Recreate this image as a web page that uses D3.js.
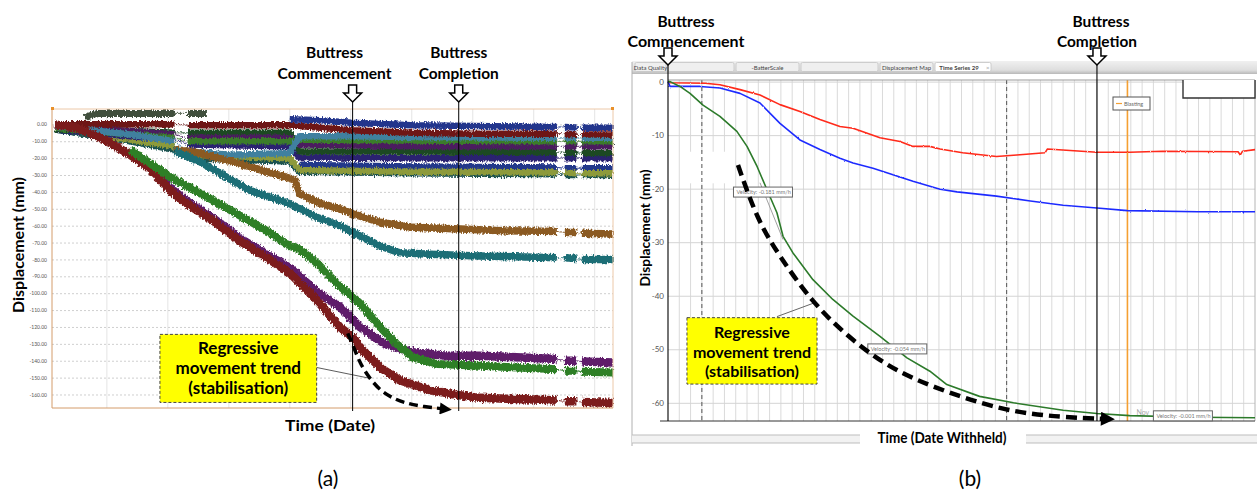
<!DOCTYPE html>
<html>
<head>
<meta charset="utf-8">
<title>Displacement time series - buttress</title>
<script src="https://d3js.org/d3.v7.min.js"></script>
<style>
  body { margin: 0; background: #fff; }
  svg { display: block; }
  text { font-family: Lato, "Open Sans", sans-serif; }
</style>
</head>
<body>
<div id="chart"></div>
<script>
// ---------------- data: panel (a) ----------------
// t = time (grid interval units), v = displacement (mm); null = data gap
var G = null;
var yTicksA = [0, -10, -20, -30, -40, -50, -60, -70, -80, -90, -100, -110, -120, -130, -140, -150, -160];
var gridA = [1, 2, 3, 4, 5, 6, 7, 8, 9];

var a_grayGreen = [[0.64,4],[0.84,6.5],[1.38,6.5],[2.11,6.5],G,[2.33,6.5],[2.64,6.5]];
var a_navy = [[4.0,3],[4.5,2.5],[5.0,1],[6.0,-0.5],[7.0,-1],[8.38,-1.5],G,[8.51,-1.5],[8.70,-1.8],G,[8.79,-2],[9.3,-2]];
var a_darkRed = [[0.15,0],[1.38,0],[2.11,0],G,[2.33,-0.5],[4.0,-0.5],[4.16,-1],[5.0,-3.5],[6.0,-5],[7.0,-5.5],[8.38,-5.5],G,[8.51,-5.5],[8.70,-6],G,[8.79,-6],[9.3,-6]];
var a_steel = [[0.15,-1],[1.38,-6],[2.11,-10],G,[2.33,-16],[3.0,-18],[4.0,-17],[4.16,-7],[5.0,-7],[6.0,-7.5],[8.38,-8],G,[8.51,-8],[8.70,-8],G,[8.79,-8],[9.3,-8]];
var a_green = [[0.15,-2],[1.38,-6],[2.11,-8],G,[2.33,-10],[4.0,-10],[4.16,-9],[6.0,-9.5],[8.38,-10],G,[8.51,-10],[8.70,-10],G,[8.79,-10],[9.3,-10]];
var a_olive = [[0.15,-2],[1.38,-9],[2.11,-13],G,[2.33,-18],[4.0,-20],[4.16,-27],[6.0,-28],[8.38,-28.5],G,[8.51,-28.5],[8.70,-29],G,[8.79,-29],[9.3,-29]];
var a_plum = [[0.15,-1],[1.38,-4],[2.11,-6],G,[2.33,-8],[4.0,-8],[4.16,-12],[6.0,-13],[8.38,-13],G,[8.51,-13],[8.70,-13],G,[8.79,-13],[9.3,-13]];
var a_darkGreen = [[0.15,-3],[1.38,-4],[2.11,-5],G,[2.33,-5],[4.0,-5],[4.16,-16],[6.0,-16],[8.38,-16.5],G,[8.51,-16.5],[8.70,-17],G,[8.79,-17],[9.3,-17]];
var a_indigo = [[0.15,-3],[1.38,-7],[2.11,-9],G,[2.33,-12],[4.0,-13],[4.16,-19.5],[6.0,-20],[8.38,-20],G,[8.51,-20],[8.70,-20],G,[8.79,-20],[9.3,-20]];
var a_navy2 = [[4.16,-24],[6.0,-25],[8.38,-25.5],G,[8.51,-26],[8.70,-26],G,[8.79,-26],[9.3,-26]];
var a_darkTeal = [[0.15,-3],[1.38,-10],[2.11,-15],G,[2.33,-20],[4.0,-22],[4.16,-28],[6.0,-29],[8.38,-29.5],G,[8.51,-30],[8.70,-30],G,[8.79,-30],[9.3,-30]];

var a_brown = [[2.11,-15],[2.52,-17],[3.34,-25],[4.0,-32],[4.08,-33],[4.16,-41],[4.44,-46],[4.82,-50],[5.03,-53],[5.48,-58],[6.0,-61],[6.8,-62],[7.5,-63],[8.38,-63.5],G,[8.51,-64],[8.70,-64],G,[8.79,-64.5],[9.3,-65]];
var a_teal = [[2.11,-16],[2.33,-19],[2.52,-22],[3.0,-32],[3.34,-39],[4.0,-47],[4.44,-55],[4.82,-60],[5.03,-64],[5.48,-72],[5.8,-76],[6.3,-77],[7.11,-78],[8.38,-79],G,[8.51,-79],[8.70,-79.5],G,[8.79,-80],[9.3,-80]];
var a_purple = [[1.38,-17],[1.7,-25],[2.03,-37.5],[2.31,-45.5],[2.74,-55.5],[3.18,-67.5],[3.62,-77],[4.0,-85],[4.44,-99],[4.82,-108],[5.15,-120],[5.55,-130],[6.02,-135],[6.57,-137],[7.11,-137],[8.38,-139],G,[8.51,-140],[8.70,-140],G,[8.79,-140.5],[9.3,-141]];
var a_maroon = [[0.15,0],[0.5,-2],[0.84,-7],[1.1,-12],[1.38,-18],[1.7,-26],[2.03,-39],[2.31,-47],[2.74,-57],[3.18,-69],[3.62,-79],[4.0,-88],[4.44,-104],[4.82,-120],[5.03,-126],[5.15,-132],[5.48,-144],[5.8,-151.6],[6.3,-157.5],[6.79,-160.5],[7.11,-162],[8.0,-163],[8.38,-163.5],G,[8.51,-164],[8.70,-164],G,[8.79,-164.5],[9.3,-165]];
var a_bigGreen = [[1.38,-15],[2.03,-31],[2.33,-37],[2.74,-45],[3.18,-54],[3.62,-63],[4.0,-72],[4.16,-74],[4.44,-82],[4.82,-96],[5.03,-102],[5.15,-106],[5.48,-120],[5.75,-130],[6.02,-138],[6.42,-142],[7.11,-143],[8.38,-145],G,[8.51,-146],[8.70,-146],G,[8.79,-146.5],[9.3,-147]];

var eventsA = [5.03, 6.77];
var trendA = [[4.95,-123.8],[5.05,-132],[5.15,-141.5],[5.3,-150],[5.48,-157.6],[5.7,-162.5],[5.92,-165.3],[6.2,-167.3],[6.5,-168.4]];

// ---------------- data: panel (b) ----------------
// t = days, v = displacement (mm)
var yTicksB = [0, -10, -20, -30, -40, -50, -60];
var gridB = d3.range(1, 52);
var dashedB = [3, 30];
var eventsB = [0, 38];
var blastingB = 40.7;

var b_red = [[0,0],[0.18,-0.2],[3.3,-0.3],[4.6,-0.6],[6.38,-1.5],[8.15,-2.5],[9.92,-4.3],[11.69,-5.6],[13.46,-7.1],[15.23,-8.4],[16.39,-8.7],[18.78,-10.5],[20.55,-11.2],[21.7,-12.1],[23.2,-12.1],[24.1,-12.6],[26.1,-13.3],[29.1,-14],[30.9,-13.7],[33.4,-13.3],[33.6,-12.6],[38,-13.2],[40.9,-13.2],[43.8,-13],[50.5,-13.1],[50.7,-13.7],[50.9,-13.0],[52,-12.7]];
var b_blue = [[0,0],[0.18,-0.9],[2.83,-0.9],[4.6,-1.2],[6.38,-2.2],[8.15,-4],[9.92,-7.8],[11.69,-10.9],[13.46,-12.7],[15.23,-14.3],[16.39,-15.2],[18.16,-16.2],[19.93,-17.4],[21.7,-18.6],[24.1,-20.1],[25.6,-20.6],[29.1,-21.4],[32.1,-22.3],[35,-23.1],[38,-23.6],[40.7,-24.1],[46.9,-24.3],[52,-24.3]];
var b_green = [[0,0],[0.18,0],[1.06,-0.9],[1.95,-2.2],[3.1,-4.4],[4.6,-6.5],[6.1,-9.3],[7.0,-12.1],[7.9,-15.9],[8.77,-20.2],[9.65,-24.5],[10.19,-28.9],[11.07,-32],[12.84,-37],[14.6,-40.7],[16.39,-43.8],[18.78,-47.6],[21.17,-51.6],[23.2,-54.1],[24.7,-56.6],[27.6,-58.8],[30.6,-60],[35,-61.4],[38,-62],[40.9,-62.4],[46.9,-62.7],[52,-62.8]];

var trendB = [[6.2,-15.6],[7.9,-25.8],[9.9,-32.7],[12.8,-41.3],[15.9,-47.6],[19.4,-53.2],[23.2,-56.9],[29.7,-61.6],[35,-62.7],[38.6,-63.0]];
var velocityB = [
  {text: "Velocity: -0.181 mm/h", t: 5.8, v: -19.7},
  {text: "Velocity: -0.054 mm/h", t: 17.7, v: -49.0},
  {text: "Velocity: -0.001 mm/h", t: 43.0, v: -61.5}
];
var tabsB = [["Data Quality", 33], ["", 68], ["-BatterScale", 65], ["", 79], ["Displacement Map", 55], ["Time Series 29", 58]];

// ---------------- svg ----------------
var W = 1257, H = 493;
var svg = d3.select("#chart").append("svg")
  .attr("width", W).attr("height", H)
  .style("background", "#fff");

var defs = svg.append("defs");
defs.append("marker").attr("id", "headA")
  .attr("viewBox", "0 0 10 10").attr("refX", 2).attr("refY", 5)
  .attr("markerWidth", 16).attr("markerHeight", 12).attr("markerUnits", "userSpaceOnUse")
  .attr("orient", "auto")
  .append("path").attr("d", "M0,0 L10,5 L0,10 Z").attr("fill", "#000");
defs.append("marker").attr("id", "headB")
  .attr("viewBox", "0 0 10 10").attr("refX", 2).attr("refY", 5)
  .attr("markerWidth", 18).attr("markerHeight", 14).attr("markerUnits", "userSpaceOnUse")
  .attr("orient", "auto")
  .append("path").attr("d", "M0,0 L10,5 L0,10 Z").attr("fill", "#000");
var tabGrad = defs.append("linearGradient").attr("id", "tabGrad").attr("x1", 0).attr("x2", 0).attr("y1", 0).attr("y2", 1);
tabGrad.append("stop").attr("offset", "0%").attr("stop-color", "#f0f0f0");
tabGrad.append("stop").attr("offset", "70%").attr("stop-color", "#dedede");
tabGrad.append("stop").attr("offset", "100%").attr("stop-color", "#b8b8b8");
// rough edge for the noisy survey bands
var rough = defs.append("filter").attr("id", "rough").attr("x", "-2%").attr("y", "-5%").attr("width", "104%").attr("height", "110%");
rough.append("feTurbulence").attr("type", "fractalNoise").attr("baseFrequency", "0.9 0.35").attr("numOctaves", 2).attr("seed", 3).attr("result", "n");
rough.append("feDisplacementMap").attr("in", "SourceGraphic").attr("in2", "n").attr("scale", 5).attr("xChannelSelector", "R").attr("yChannelSelector", "G");
// lighter jitter for the radar traces in (b)
var jitter = defs.append("filter").attr("id", "jitter").attr("x", "-2%").attr("y", "-5%").attr("width", "104%").attr("height", "110%");
jitter.append("feTurbulence").attr("type", "fractalNoise").attr("baseFrequency", "0.6 0.2").attr("numOctaves", 1).attr("seed", 7).attr("result", "n");
jitter.append("feDisplacementMap").attr("in", "SourceGraphic").attr("in2", "n").attr("scale", 2.2).attr("xChannelSelector", "R").attr("yChannelSelector", "G");

function hollowArrow(g, cx, top) {
  var p = d3.path();
  p.moveTo(cx - 4, top); p.lineTo(cx + 4, top); p.lineTo(cx + 4, top + 8);
  p.lineTo(cx + 9, top + 8); p.lineTo(cx, top + 17); p.lineTo(cx - 9, top + 8);
  p.lineTo(cx - 4, top + 8); p.closePath();
  g.append("path").attr("d", p.toString()).attr("fill", "#fff").attr("stroke", "#000").attr("stroke-width", 1.5);
}
function boldText(g, x, y, str, size, len) {
  var t = g.append("text").attr("x", x).attr("y", y).attr("text-anchor", "middle")
    .attr("font-size", size).attr("font-weight", "bold").attr("fill", "#000").text(str);
  if (len) t.attr("textLength", len).attr("lengthAdjust", "spacingAndGlyphs");
  return t;
}

// ================= panel (a) =================
var xA = d3.scaleLinear().domain([0.1, 9.3]).range([52, 613]);
var yA = d3.scaleLinear().domain([9.1, -168]).range([109, 408]);
var gA = svg.append("g");

gA.selectAll(".vgrid").data(gridA).enter().append("line")
  .attr("x1", function(d) { return xA(d); }).attr("x2", function(d) { return xA(d); })
  .attr("y1", yA.range()[0]).attr("y2", yA.range()[1])
  .attr("stroke", "#e4e4e4");

var axA = gA.append("g").attr("transform", "translate(" + xA.range()[0] + ",0)")
  .call(d3.axisLeft(yA).tickValues(yTicksA)
    .tickFormat(function(d) { return d.toFixed(2); })
    .tickSize(-(xA.range()[1] - xA.range()[0])).tickPadding(5));
axA.select(".domain").remove();
axA.selectAll(".tick line").attr("stroke", "#cfcfcf").attr("stroke-dasharray", "2,2");
axA.selectAll(".tick text").attr("font-size", 5).attr("fill", "#555").style("font-family", "Lato, sans-serif");

var seriesA = [
  [a_darkTeal, "#1d5250", 6.5], [a_navy2, "#24388a", 6.5], [a_olive, "#8d9a3b", 6.5],
  [a_indigo, "#2b2270", 6.5], [a_darkGreen, "#1c4a24", 6.5], [a_plum, "#4b1f5e", 6.5],
  [a_green, "#3b7c2b", 6.5], [a_steel, "#3f809f", 6.5], [a_darkRed, "#6e1616", 6.5],
  [a_navy, "#22348c", 6.5], [a_grayGreen, "#3f4f3c", 7],
  [a_brown, "#8b5a22", 7.5], [a_teal, "#1f6e76", 7.5], [a_purple, "#5e1d6b", 8.5],
  [a_maroon, "#7b1e1e", 8.5], [a_bigGreen, "#2f7f28", 8]
];
var lineA = d3.line().defined(function(d) { return d !== null; })
  .x(function(d) { return xA(d[0]); }).y(function(d) { return yA(d[1]); });
var bandsA = gA.append("g").attr("filter", "url(#rough)");
seriesA.forEach(function(s) {
  bandsA.append("path").attr("d", lineA(s[0].filter(function(d) { return d; })))
    .attr("fill", "none").attr("stroke", s[1]).attr("stroke-width", 0.9);
  bandsA.append("path").attr("d", lineA(s[0]))
    .attr("fill", "none").attr("stroke", s[1]).attr("stroke-width", s[2])
    .attr("stroke-linejoin", "round");
});

// frame
gA.append("line").attr("x1", 52).attr("x2", 613).attr("y1", 109).attr("y2", 109).attr("stroke", "#ecc8a8");
gA.append("line").attr("x1", 613).attr("x2", 613).attr("y1", 109).attr("y2", 408).attr("stroke", "#ecc8a8");
gA.append("line").attr("x1", 52).attr("x2", 52).attr("y1", 109).attr("y2", 408).attr("stroke", "#d49c6a");
gA.append("line").attr("x1", 52).attr("x2", 613).attr("y1", 408).attr("y2", 408).attr("stroke", "#d49c6a");
gA.append("rect").attr("x", 51).attr("y", 107).attr("width", 3).attr("height", 3).attr("fill", "#e8902a");
gA.append("rect").attr("x", 611).attr("y", 107).attr("width", 3).attr("height", 3).attr("fill", "#e8902a");

// yellow annotation box + leader
gA.append("line").attr("x1", xA(4.44)).attr("y1", yA(-144)).attr("x2", xA(5.31)).attr("y2", yA(-150.4))
  .attr("stroke", "#333").attr("stroke-width", 0.8);
gA.append("rect").attr("x", xA(1.87)).attr("y", yA(-124.4))
  .attr("width", xA(4.44) - xA(1.87)).attr("height", yA(-164.7) - yA(-124.4))
  .attr("fill", "#ffff00").attr("stroke", "#444").attr("stroke-dasharray", "3,2");
var cxA = (xA(1.87) + xA(4.44)) / 2;
boldText(gA, cxA, 354, "Regressive", 17);
boldText(gA, cxA, 374, "movement trend", 17);
boldText(gA, cxA, 394, "(stabilisation)", 17);

// trend arrow
gA.append("path").attr("d", d3.line().curve(d3.curveBasis)
    .x(function(d) { return xA(d[0]); }).y(function(d) { return yA(d[1]); })(trendA))
  .attr("fill", "none").attr("stroke", "#000").attr("stroke-width", 3.5)
  .attr("stroke-dasharray", "9,5").attr("marker-end", "url(#headA)");

// buttress markers
eventsA.forEach(function(t) {
  gA.append("line").attr("x1", xA(t)).attr("x2", xA(t)).attr("y1", 101).attr("y2", 411)
    .attr("stroke", "#000").attr("stroke-width", 1);
  hollowArrow(gA, xA(t), 85);
});
boldText(gA, xA(eventsA[0]) - 18, 58, "Buttress", 16, 57);
boldText(gA, xA(eventsA[0]) - 18, 79, "Commencement", 16, 114);
boldText(gA, xA(eventsA[1]), 58, "Buttress", 16, 57);
boldText(gA, xA(eventsA[1]), 79, "Completion", 16, 80);

boldText(gA, 330, 431, "Time (Date)", 16, 90);
boldText(gA, 0, 0, "Displacement (mm)", 16, 136).attr("transform", "translate(24,245) rotate(-90)");

// ================= panel (b) =================
var xB = d3.scaleLinear().domain([0, 52]).range([668, 1255]);
var yB = d3.scaleLinear().domain([0.3, -63.4]).range([80, 421]);
var gB = svg.append("g");

// window chrome: tab strip
gB.append("rect").attr("x", 632).attr("y", 61).attr("width", 625).attr("height", 13).attr("fill", "url(#tabGrad)");
var tx = 635;
tabsB.forEach(function(tb, i) {
  var last = i === tabsB.length - 1;
  gB.append("rect").attr("x", tx).attr("y", 62.5).attr("width", tb[1] - 2).attr("height", 9).attr("rx", 1.5)
    .attr("fill", last ? "#fff" : "#efefef").attr("stroke", "#c4c4c4").attr("stroke-width", 0.8);
  if (tb[0]) {
    gB.append("text").attr("x", tx + (tb[1] - 2) / 2 - (last ? 4 : 0)).attr("y", 69.5).attr("text-anchor", "middle")
      .attr("font-size", 6).attr("font-weight", last ? "bold" : "normal").attr("fill", "#444").text(tb[0]);
  }
  if (last) {
    gB.append("text").attr("x", tx + tb[1] - 7).attr("y", 69.5).attr("font-size", 6).attr("fill", "#999").text("\u00d7");
  }
  tx += tb[1];
});
gB.append("line").attr("x1", 632).attr("x2", 632).attr("y1", 62).attr("y2", 446).attr("stroke", "#b0b0b0");

// grid
gB.selectAll(".vgridb").data(gridB).enter().append("line")
  .attr("x1", function(d) { return xB(d); }).attr("x2", function(d) { return xB(d); })
  .attr("y1", yB.range()[0]).attr("y2", yB.range()[1])
  .attr("stroke", "#dadada");
var axB = gB.append("g").attr("transform", "translate(" + xB.range()[0] + ",0)")
  .call(d3.axisLeft(yB).tickValues(yTicksB)
    .tickFormat(function(d) { return d === 0 ? "0" : "-" + Math.abs(d); })
    .tickSize(-(xB.range()[1] - xB.range()[0])).tickPadding(4));
axB.select(".domain").remove();
axB.selectAll(".tick line").attr("stroke", "#d4d4d4");
axB.selectAll(".tick text").attr("font-size", 8).attr("fill", "#555").style("font-family", "Lato, sans-serif");

// blank patch left by an erased label
gB.append("rect").attr("x", xB(1.06)).attr("y", yB(-13.1))
  .attr("width", xB(5.9) - xB(1.06)).attr("height", yB(-19) - yB(-13.1)).attr("fill", "#fff");

dashedB.forEach(function(t) {
  gB.append("line").attr("x1", xB(t)).attr("x2", xB(t)).attr("y1", yB.range()[0]).attr("y2", yB.range()[1])
    .attr("stroke", "#555").attr("stroke-dasharray", "4,3");
});
gB.append("line").attr("x1", xB(blastingB)).attr("x2", xB(blastingB)).attr("y1", yB.range()[0]).attr("y2", yB.range()[1])
  .attr("stroke", "#f5a032").attr("stroke-width", 1.6);

// frame
gB.append("line").attr("x1", 668).attr("x2", 1255).attr("y1", 80).attr("y2", 80).attr("stroke", "#9a9a9a");
gB.append("line").attr("x1", 1255).attr("x2", 1255).attr("y1", 80).attr("y2", 421).attr("stroke", "#b5b5b5");
gB.append("line").attr("x1", 660).attr("x2", 1255).attr("y1", 421).attr("y2", 421).attr("stroke", "#333");

// series
var lineB = d3.line().x(function(d) { return xB(d[0]); }).y(function(d) { return yB(d[1]); });
[[b_red, "#ff2a1a", true], [b_blue, "#1f2cff", true], [b_green, "#2c7a2a", false]].forEach(function(s) {
  var p = gB.append("path").attr("d", lineB(s[0])).attr("fill", "none").attr("stroke", s[1]).attr("stroke-width", 1.6)
    .attr("stroke-linejoin", "round");
  if (s[2]) p.attr("filter", "url(#jitter)");
});

// tangent helper line
gB.append("line").attr("x1", xB(8.15)).attr("y1", yB(-18.9)).attr("x2", xB(10.19)).attr("y2", yB(-29.5))
  .attr("stroke", "#888").attr("stroke-width", 0.8);

// velocity tags
velocityB.forEach(function(d) {
  gB.append("rect").attr("x", xB(d.t)).attr("y", yB(d.v)).attr("width", 59).attr("height", 10)
    .attr("fill", "#fff").attr("stroke", "#666").attr("stroke-width", 1);
  gB.append("text").attr("x", xB(d.t) + 3).attr("y", yB(d.v) + 7).attr("font-size", 5.5).attr("fill", "#777").text(d.text);
});
gB.append("text").attr("x", xB(41.5)).attr("y", yB(-62.2)).attr("font-size", 7).attr("fill", "#aaa").text("Nov");

// legend and top-right box
gB.append("rect").attr("x", 1113).attr("y", 97).attr("width", 37).attr("height", 13)
  .attr("fill", "#fff").attr("stroke", "#555").attr("stroke-width", 1);
gB.append("line").attr("x1", 1116).attr("x2", 1122).attr("y1", 103.5).attr("y2", 103.5).attr("stroke", "#f5a032").attr("stroke-width", 1.2);
gB.append("text").attr("x", 1124).attr("y", 105.5).attr("font-size", 5.5).attr("fill", "#666").text("Blasting");
gB.append("rect").attr("x", 1183).attr("y", 80).attr("width", 72).attr("height", 18).attr("fill", "#fff");
gB.append("path").attr("d", "M1183,80 L1183,98 L1255,98 L1255,80").attr("fill", "none").attr("stroke", "#333").attr("stroke-width", 1.4);

// yellow box + leader
gB.append("line").attr("x1", xB(9.65)).attr("y1", yB(-43.9)).attr("x2", xB(13.0)).attr("y2", yB(-41.3))
  .attr("stroke", "#666").attr("stroke-width", 1);
gB.append("rect").attr("x", xB(1.68)).attr("y", yB(-44.1))
  .attr("width", xB(13.2) - xB(1.68)).attr("height", yB(-56.5) - yB(-44.1))
  .attr("fill", "#ffff00").attr("stroke", "#444").attr("stroke-dasharray", "3,2");
var cxB = (xB(1.68) + xB(13.2)) / 2;
boldText(gB, cxB, 338, "Regressive", 16);
boldText(gB, cxB, 358, "movement trend", 16);
boldText(gB, cxB, 377, "(stabilisation)", 16);

// trend arrow
gB.append("path").attr("d", d3.line().curve(d3.curveBasis)
    .x(function(d) { return xB(d[0]); }).y(function(d) { return yB(d[1]); })(trendB))
  .attr("fill", "none").attr("stroke", "#000").attr("stroke-width", 4.5)
  .attr("stroke-dasharray", "11,6").attr("marker-end", "url(#headB)");

// buttress markers
eventsB.forEach(function(t) {
  gB.append("line").attr("x1", xB(t)).attr("x2", xB(t)).attr("y1", 64).attr("y2", 421)
    .attr("stroke", "#000").attr("stroke-width", 1.1);
  hollowArrow(gB, xB(t), 48);
});
boldText(gB, 686, 27, "Buttress", 16, 57);
boldText(gB, 686, 47, "Commencement", 16, 117);
boldText(gB, xB(eventsB[1]) + 4, 27, "Buttress", 16, 57);
boldText(gB, xB(eventsB[1]), 47, "Completion", 16, 80);

// bottom scrollbar and axis title
gB.append("rect").attr("x", 632).attr("y", 435).attr("width", 625).attr("height", 8).attr("fill", "#f2f2f2");
gB.append("line").attr("x1", 632).attr("x2", 1257).attr("y1", 435).attr("y2", 435).attr("stroke", "#bdbdbd");
gB.append("line").attr("x1", 632).attr("x2", 1257).attr("y1", 443).attr("y2", 443).attr("stroke", "#bdbdbd");
gB.append("rect").attr("x", 860).attr("y", 426).attr("width", 166).attr("height", 20).attr("fill", "#fff");
boldText(gB, 942, 443, "Time (Date Withheld)", 15.5, 129);
boldText(gB, 0, 0, "Displacement (mm)", 14, 117).attr("transform", "translate(650,228) rotate(-90)");

// panel letters
svg.append("text").attr("x", 328).attr("y", 486).attr("text-anchor", "middle").attr("font-size", 21).text("(a)");
svg.append("text").attr("x", 970).attr("y", 486).attr("text-anchor", "middle").attr("font-size", 21).text("(b)");
</script>
</body>
</html>
